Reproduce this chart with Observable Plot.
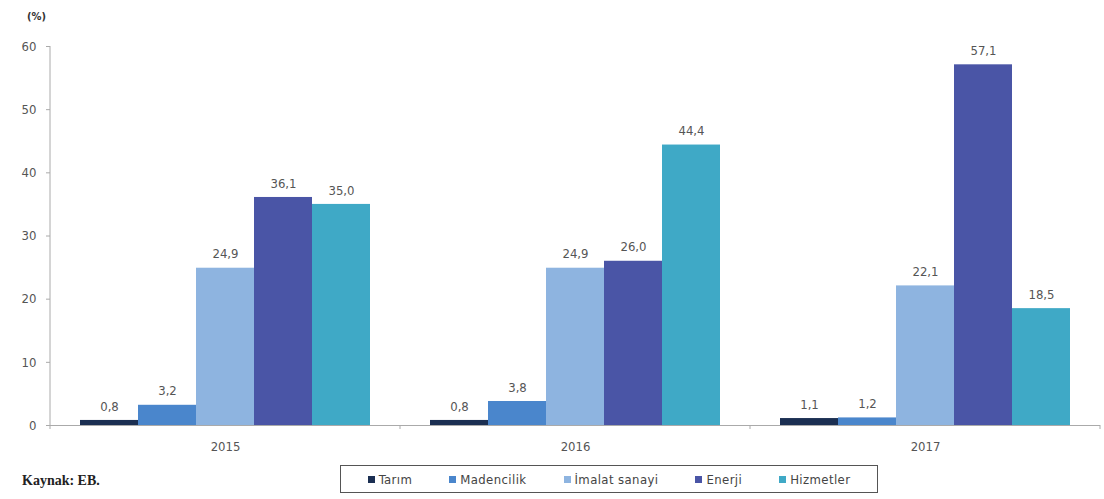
<!DOCTYPE html>
<html>
<head>
<meta charset="utf-8">
<script src="https://cdn.jsdelivr.net/npm/d3@7"></script>
<script src="https://cdn.jsdelivr.net/npm/@observablehq/plot@0.6"></script>
<style>
  html, body { margin: 0; padding: 0; background: #ffffff; }
  body { width: 1104px; height: 499px; overflow: hidden; font-family: "DejaVu Sans Condensed", "DejaVu Sans", sans-serif; }
  #chart { position: relative; }
  #unit { position: absolute; left: 27px; top: 10px; font-size: 11px; font-weight: bold; color: #333; }
  #bottom { position: relative; height: 39px; }
  #caption { position: absolute; left: 22px; top: 13px; font-family: "Liberation Serif", "Times New Roman", serif; font-weight: bold; font-size: 14px; color: #222; }
  #legend { position: absolute; left: 340px; top: 5px; width: 538px; height: 28px; border: 1.5px solid #555; display: flex; align-items: center; justify-content: center; gap: 37px; font-size: 13px; letter-spacing: 0.4px; color: #444; box-sizing: border-box; }
  .item { display: flex; align-items: center; gap: 4px; }
  .sw { width: 7px; height: 7px; display: inline-block; }
</style>
</head>
<body>
<div id="chart"><div id="unit">(%)</div></div>
<div id="bottom"><div id="caption">Kaynak: EB.</div><div id="legend"></div></div>
<script>
const years = ["2015", "2016", "2017"];
const sectors = ["Tarım", "Madencilik", "İmalat sanayi", "Enerji", "Hizmetler"];
const colors = ["#1b2f52", "#4a86cc", "#8eb4e0", "#4a55a6", "#3fa9c6"];
const tarim = [0.8, 0.8, 1.1];
const madencilik = [3.2, 3.8, 1.2];
const imalat = [24.9, 24.9, 22.1];
const enerji = [36.1, 26.0, 57.1];
const hizmetler = [35.0, 44.4, 18.5];
const yTicks = [0, 10, 20, 30, 40, 50, 60];

const series = [tarim, madencilik, imalat, enerji, hizmetler];
const data = [];
years.forEach((yr, i) => sectors.forEach((s, j) => data.push({year: yr, sector: s, value: series[j][i]})));

const fmt = v => v.toFixed(1).replace(".", ",");
const font = "DejaVu Sans Condensed, DejaVu Sans, sans-serif";

const plot = Plot.plot({
  width: 1104,
  height: 460,
  marginTop: 46,
  marginBottom: 35,
  marginLeft: 49,
  marginRight: 4,
  style: {fontFamily: font, fontSize: "13px", color: "#555", background: "transparent"},
  fx: {domain: years, padding: 0, label: null},
  x: {domain: sectors, paddingInner: 0, paddingOuter: 0.5, axis: null},
  y: {domain: [0, 60], label: null},
  color: {domain: sectors, range: colors},
  marks: [
    Plot.barY(data, {fx: "year", x: "sector", y: "value", fill: "sector"}),
    Plot.text(data, {fx: "year", x: "sector", y: "value", text: d => fmt(d.value), dy: -14, fill: "#555", fontSize: 13}),
    Plot.ruleY([0], {stroke: "#aaa", strokeWidth: 1}),
    Plot.axisY({ticks: yTicks, tickSize: 4, tickPadding: 10, stroke: "#aaa", fill: "#555", fontSize: 13, label: null}),
    Plot.axisFx({anchor: "bottom", tickSize: 0, tickPadding: 16, fill: "#555", fontSize: 13, label: null})
  ]
});

// y-axis domain line and group boundary ticks, placed with the plot's own scales
const yS = plot.scale("y");
const fxS = plot.scale("fx");
const svg = d3.select(plot);
const y0 = yS.apply(0), yTop = yS.apply(60);
const left = fxS.apply(years[0]);
svg.append("line").attr("x1", left).attr("x2", left).attr("y1", yTop).attr("y2", y0)
  .attr("stroke", "#aaa").attr("stroke-width", 1);
const bounds = [left, ...years.map(yr => fxS.apply(yr) + fxS.bandwidth)];
bounds.forEach(x => {
  svg.append("line").attr("x1", x).attr("x2", x).attr("y1", y0).attr("y2", y0 + 4)
    .attr("stroke", "#aaa").attr("stroke-width", 1);
});
document.getElementById("chart").appendChild(plot);

const legend = document.getElementById("legend");
sectors.forEach((s, i) => {
  const it = document.createElement("div");
  it.className = "item";
  const sw = document.createElement("span");
  sw.className = "sw";
  sw.style.background = colors[i];
  const t = document.createElement("span");
  t.textContent = s;
  it.appendChild(sw); it.appendChild(t);
  legend.appendChild(it);
});
</script>
</body>
</html>
